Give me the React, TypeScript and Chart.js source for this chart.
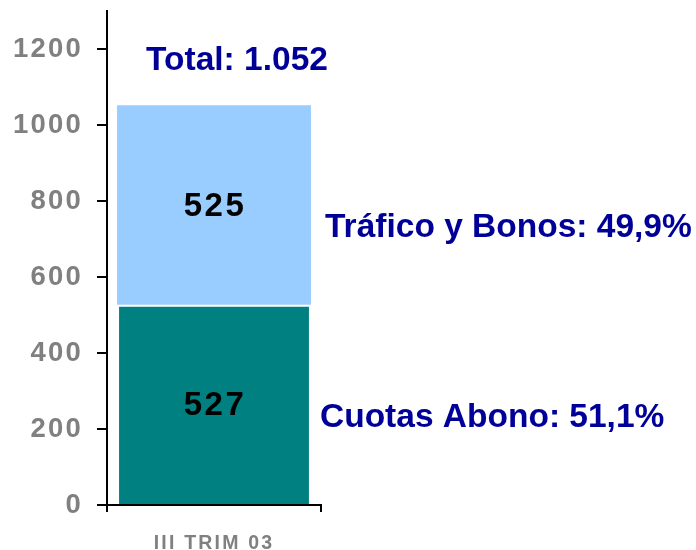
import { useEffect, useRef } from 'react';
import { Chart, registerables } from 'chart.js';

Chart.register(...registerables);

const categories = ['III TRIM 03'];
const cuotasValues = [527];
const traficoValues = [525];
const seriesNames = ['Cuotas Abono', 'Tráfico y Bonos'];
const seriesShares = ['51,1%', '49,9%'];
const yTickValues = [0, 200, 400, 600, 800, 1000, 1200];
const yMax = 1300;

const FONT = '"Liberation Sans", Arial, Helvetica, sans-serif';
const BLUE = '#000099';
const GREY = '#808080';

function formatEs(n: number): string {
  return String(Math.round(n)).replace(/\B(?=(\d{3})+(?!\d))/g, '.');
}

export default function App() {
  const ref = useRef<HTMLCanvasElement>(null);

  useEffect(() => {
    document.body.style.margin = '0';
    const canvas = ref.current;
    if (!canvas) return;

    const spacingPlugin = {
      id: 'spacing',
      beforeDraw(chart: any) {
        (chart.ctx as any).letterSpacing = '2.2px';
      },
    };

    const textPlugin = {
      id: 'texts',
      afterDraw(chart: any) {
        const ctx = chart.ctx as CanvasRenderingContext2D & { letterSpacing: string };
        const bottom = chart.getDatasetMeta(0).data[0] as any;
        const top = chart.getDatasetMeta(1).data[0] as any;
        const area = chart.chartArea;
        ctx.save();
        // values inside bars
        ctx.fillStyle = '#000';
        ctx.font = `bold 33px ${FONT}`;
        ctx.textAlign = 'center';
        ctx.textBaseline = 'alphabetic';
        ctx.letterSpacing = '2.5px';
        const bc = (bottom.y + bottom.base) / 2;
        const tc = (top.y + top.base) / 2;
        ctx.fillText(String(cuotasValues[0]), bottom.x + 1, bc + 11);
        ctx.fillText(String(traficoValues[0]), top.x + 1, tc + 11);

        // annotations
        ctx.fillStyle = BLUE;
        ctx.font = `bold 33.5px ${FONT}`;
        ctx.letterSpacing = '0px';
        const total = cuotasValues[0] + traficoValues[0];
        ctx.fillText(`Total: ${formatEs(total)}`, top.x + 23, top.y - 35);
        ctx.textAlign = 'left';
        ctx.fillText(`${seriesNames[1]}: ${seriesShares[1]}`, area.right + 4, tc + 32);
        ctx.fillText(`${seriesNames[0]}: ${seriesShares[0]}`, area.right - 1, bc + 23);
        ctx.restore();
        ctx.letterSpacing = '0px';
      },
    };

    const chart = new Chart(canvas, {
      type: 'bar',
      data: {
        labels: categories,
        datasets: [
          {
            label: seriesNames[0],
            data: cuotasValues,
            backgroundColor: '#008080',
            borderColor: '#ffffff',
            borderWidth: { top: 2, left: 2, right: 2, bottom: 0 },
            borderSkipped: false,
            categoryPercentage: 1,
            barPercentage: 0.906,
          },
          {
            label: seriesNames[1],
            data: traficoValues,
            backgroundColor: '#99CCFF',
            borderWidth: 0,
            categoryPercentage: 1,
            barPercentage: 0.906,
          },
        ],
      },
      options: {
        responsive: false,
        animation: false,
        devicePixelRatio: 1,
        layout: { padding: { top: 11, right: 375, left: 0, bottom: 0 } },
        plugins: {
          legend: { display: false },
          tooltip: { enabled: false },
        },
        scales: {
          x: {
            stacked: true,
            offset: true,
            afterFit: (scale: any) => {
              scale.height = 45;
              scale.paddingLeft = 0;
              scale.paddingRight = 0;
            },
            grid: {
              display: true,
              drawOnChartArea: false,
              drawTicks: true,
              tickLength: 7,
              color: '#000',
              lineWidth: 2,
              offset: true,
            },
            border: { display: true, color: '#000', width: 2 },
            ticks: {
              color: GREY,
              font: { family: FONT, size: 19.5, weight: 'bold' },
              padding: 20,
            },
          },
          y: {
            stacked: true,
            min: 0,
            max: yMax,
            afterBuildTicks: (scale: any) => {
              scale.ticks = yTickValues.map((v) => ({ value: v }));
            },
            afterFit: (scale: any) => {
              scale.width = 107;
              scale.paddingTop = 0;
              scale.paddingBottom = 0;
            },
            grid: {
              display: true,
              drawOnChartArea: false,
              drawTicks: true,
              tickLength: 10,
              color: '#000',
              lineWidth: 2,
            },
            border: { display: true, color: '#000', width: 2 },
            ticks: {
              color: GREY,
              font: { family: FONT, size: 27.5, weight: 'bold' },
              padding: 14,
              callback: (v: any) => String(v),
            },
          },
        },
      },
      plugins: [spacingPlugin, textPlugin],
    });

    return () => chart.destroy();
  }, []);

  return (
    <canvas
      ref={ref}
      width={696}
      height={550}
      style={{ display: 'block', width: 696, height: 550 }}
    />
  );
}
